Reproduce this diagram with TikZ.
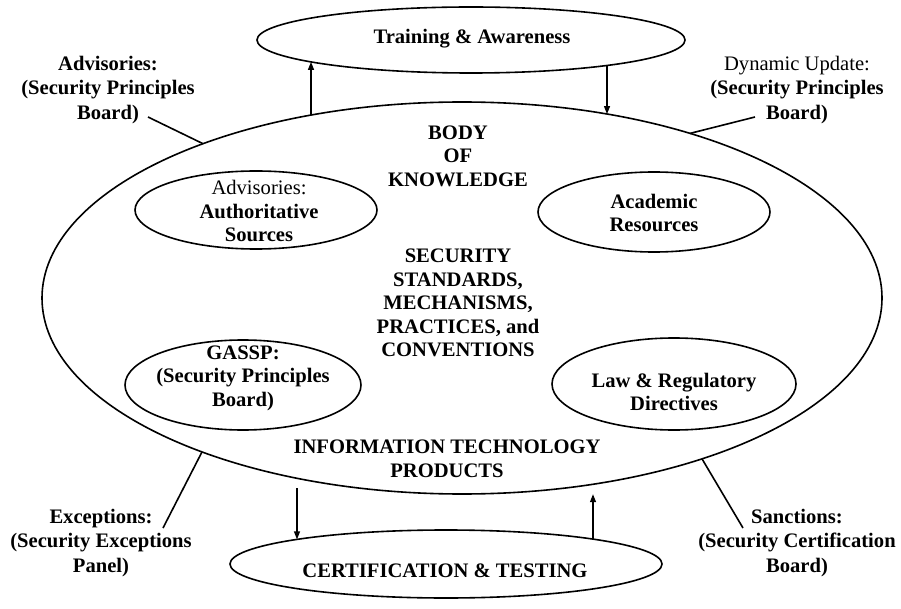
\documentclass[tikz,border=0pt]{standalone}
\usepackage{fontspec}
\setmainfont{Liberation Serif}
\usetikzlibrary{shapes.geometric,arrows.meta,calc}

% point on the border of an oval node, found from its x offset
% #1 name, #2 node, #3 x offset, #4 x radius, #5 signed y radius (negative = upper half)
\newcommand\ovpt[5]{%
  \pgfmathsetmacro\ovdy{(#5)*sqrt(1-((#3)/(#4))^2)}%
  \coordinate (#1) at ($(#2.center)+(#3,\ovdy)$);}

\begin{document}
\begin{tikzpicture}[x=1pt,y=-1pt,
  oval/.style={ellipse, draw, line width=1.6pt, inner sep=0pt, outer sep=0pt},
  txt/.style={font=\fontsize{20.6}{23.5}\selectfont\bfseries, align=center, inner sep=0pt},
  side/.style={txt, font=\fontsize{20.6}{24.5}\selectfont\bfseries},
  link/.style={line width=1.6pt},
  arr/.style={line width=1.3pt, -{Triangle[length=8pt,width=6pt]}}]

\useasboundingbox (0,0) rectangle (901,609);

% outer ovals
\node[oval, minimum width=840, minimum height=392] (big) at (462,298) {};
\node[oval, minimum width=428, minimum height=66] (top) at (471,40) {};
\node[oval, minimum width=432, minimum height=68] (bot) at (446,564) {};

% inner ovals
\node[oval, minimum width=242, minimum height=78] (auth) at (256,210) {};
\node[oval, minimum width=232, minimum height=80] (acad) at (654,212) {};
\node[oval, minimum width=236, minimum height=90] (gassp) at (243,385) {};
\node[oval, minimum width=244, minimum height=92] (law) at (674,384) {};

% texts
\node[txt] (ttop) at (472,39) {Training \& Awareness};
\node[txt] (tbot) at (445,571) {CERTIFICATION \& TESTING};
\node[txt] (tbody) at (458,156) {BODY\\OF\\KNOWLEDGE};
\node[txt] (tsec) at (458,303) {SECURITY\\STANDARDS,\\MECHANISMS,\\PRACTICES, and\\CONVENTIONS};
\node[txt] (tit) at (447,459) {INFORMATION TECHNOLOGY\\PRODUCTS};
\node[txt] (tauth) at (259,211) {{\mdseries Advisories:}\\Authoritative\\Sources};
\node[txt] (tacad) at (654,213) {Academic\\Resources};
\node[txt] (tgassp) at (243,378) {GASSP:\\(Security Principles\\Board)};
\node[txt] (tlaw) at (674,392) {Law \& Regulatory\\Directives};

% outside labels
\node[side] (ladv) at (108,90) {Advisories:\\(Security Principles\\Board)};
\node[side] (ldyn) at (797,90) {{\mdseries Dynamic Update:}\\(Security Principles\\Board)};
\node[side] (lexc) at (101,543) {Exceptions:\\(Security Exceptions\\Panel)};
\node[side] (lsan) at (797,543) {Sanctions:\\(Security Certification\\Board)};

% label leader ends
\coordinate (cadv) at (148,117);
\coordinate (cdyn) at (755,117);
\coordinate (cexc) at (163,528);
\coordinate (csan) at (743,528);
\ovpt{badv}{big}{-259}{420}{-196}
\ovpt{bdyn}{big}{228}{420}{-196}
\ovpt{bexc}{big}{-260}{420}{196}
\ovpt{bsan}{big}{240}{420}{196}

\draw[link] (cadv) -- (badv);
\draw[link] (cdyn) -- (bdyn);
\draw[link] (cexc) -- (bexc);
\draw[link] (csan) -- (bsan);

% flows between ovals
\ovpt{b1}{big}{-151}{420}{-196}  \ovpt{t1}{top}{-160}{214}{33}
\ovpt{t2}{top}{136}{214}{33}     \ovpt{b2}{big}{145}{420}{-196}
\ovpt{b3}{big}{-165}{420}{196}   \ovpt{c3}{bot}{-149}{216}{-34}
\ovpt{c4}{bot}{147}{216}{-34}    \ovpt{b4}{big}{131}{420}{196}

\draw[arr] (b1) -- (t1);
\draw[arr] (t2) -- (b2);
\draw[arr, shorten <=10pt] (b3) -- (c3);
\draw[arr, shorten >=10pt] (c4) -- (b4);

\end{tikzpicture}
\end{document}
